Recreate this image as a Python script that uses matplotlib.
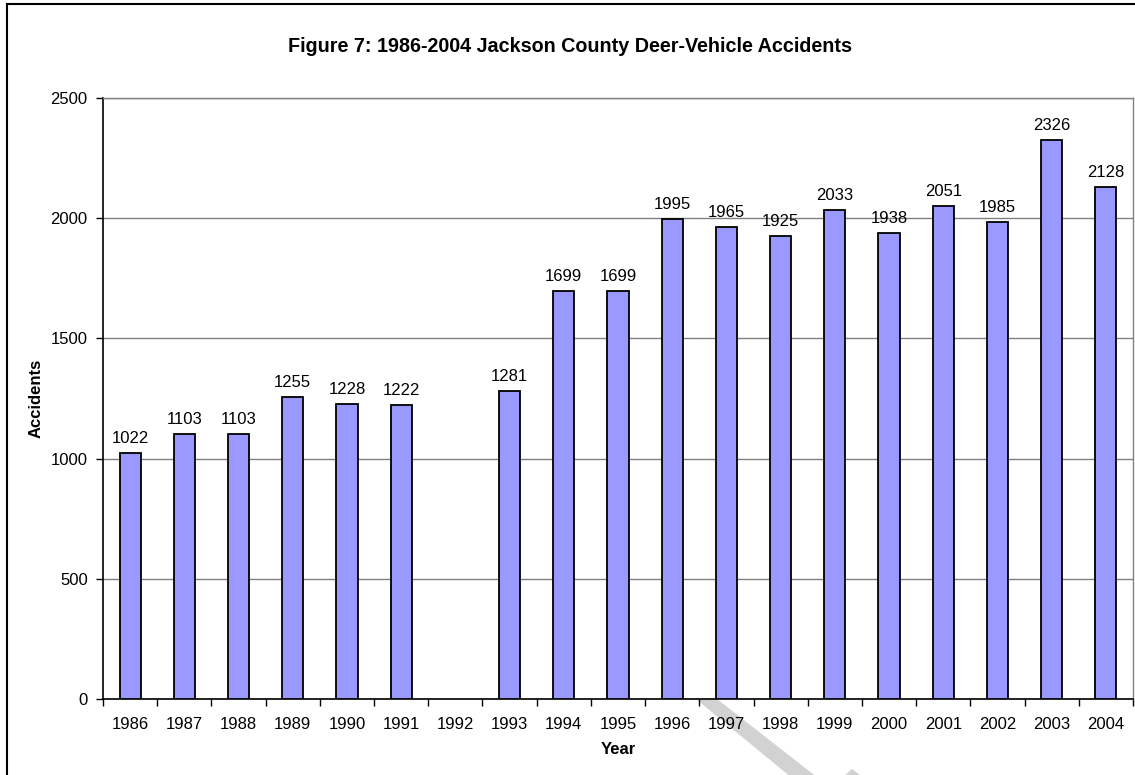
import matplotlib.pyplot as plt
import numpy as np
from matplotlib.patches import Polygon
from matplotlib.lines import Line2D

plt.rcParams['font.family'] = ['Liberation Sans', 'DejaVu Sans']

years = ['1986', '1987', '1988', '1989', '1990', '1991', '1992', '1993', '1994', '1995',
         '1996', '1997', '1998', '1999', '2000', '2001', '2002', '2003', '2004']
accidents = [1022, 1103, 1103, 1255, 1228, 1222, None, 1281, 1699, 1699,
             1995, 1965, 1925, 2033, 1938, 2051, 1985, 2326, 2128]
y_ticks = [0, 500, 1000, 1500, 2000, 2500]

W, H = 1135, 775
fig = plt.figure(figsize=(W / 100, H / 100), dpi=100)
fig.patch.set_facecolor('white')

# watermark shapes peeking out below the plot area
band = Polygon([(696 / W, 1 - 699 / H), (717 / W, 1 - 699 / H),
                (818 / W, 1 - 778 / H), (792 / W, 1 - 778 / H)],
               closed=True, transform=fig.transFigure, facecolor='#d2d2d2',
               edgecolor='none', zorder=-5)
peak = Polygon([(852 / W, 1 - 769 / H), (864 / W, 1 - 778 / H), (842 / W, 1 - 778 / H)],
               closed=True, transform=fig.transFigure, facecolor='#d2d2d2',
               edgecolor='none', zorder=-5)
fig.patches.extend([band, peak])

# chart-area border (only top and left are inside the picture)
fig.add_artist(Line2D([7 / W, 1], [1 - 4 / H, 1 - 4 / H], color='black', lw=1.5,
                      transform=fig.transFigure))
fig.add_artist(Line2D([7 / W, 7 / W], [0, 1 - 4 / H], color='black', lw=1.5,
                      transform=fig.transFigure))

ax = fig.add_axes([103 / W, 1 - 699 / H, (1133 - 103) / W, (699 - 98) / H])
ax.set_facecolor('white')

x = np.arange(len(years))
vals = np.array([np.nan if v is None else v for v in accidents], dtype=float)
bars = ax.bar(x, vals, width=0.39, color='#9999ff', edgecolor='black', linewidth=1.3, zorder=3)

for xi, v in zip(x, accidents):
    if v is None:
        continue
    ax.annotate(str(v), (xi, v), xytext=(0, 5), textcoords='offset points',
                ha='center', va='bottom', fontsize=12)

ax.set_xlim(-0.5, len(years) - 0.5)
ax.set_ylim(0, 2500)
ax.set_yticks(y_ticks)
ax.set_xticks(x)
ax.set_xticklabels(years)
ax.set_xticks(np.arange(-0.5, len(years)), minor=True)
ax.tick_params(axis='x', which='major', length=0, pad=13, labelsize=12)
ax.tick_params(axis='x', which='minor', length=5, width=1, direction='out', color='black')
ax.tick_params(axis='y', length=5, width=1, direction='out', pad=6, labelsize=12)

ax.grid(axis='y', color='#808080', linewidth=1, zorder=0)
ax.set_axisbelow(True)
for side in ['top', 'right']:
    ax.spines[side].set_color('#808080')
    ax.spines[side].set_linewidth(1)
for side in ['left', 'bottom']:
    ax.spines[side].set_color('black')
    ax.spines[side].set_linewidth(1.2)

ax.set_xlabel('Year', fontsize=12, fontweight='bold', labelpad=7)
ax.set_ylabel('Accidents', fontsize=12, fontweight='bold', labelpad=5)
fig.text(570 / W, 1 - 47 / H, 'Figure 7: 1986-2004 Jackson County Deer-Vehicle Accidents',
         ha='center', va='center', fontsize=14.2, fontweight='bold')

fig.savefig('out.png', dpi=100)
